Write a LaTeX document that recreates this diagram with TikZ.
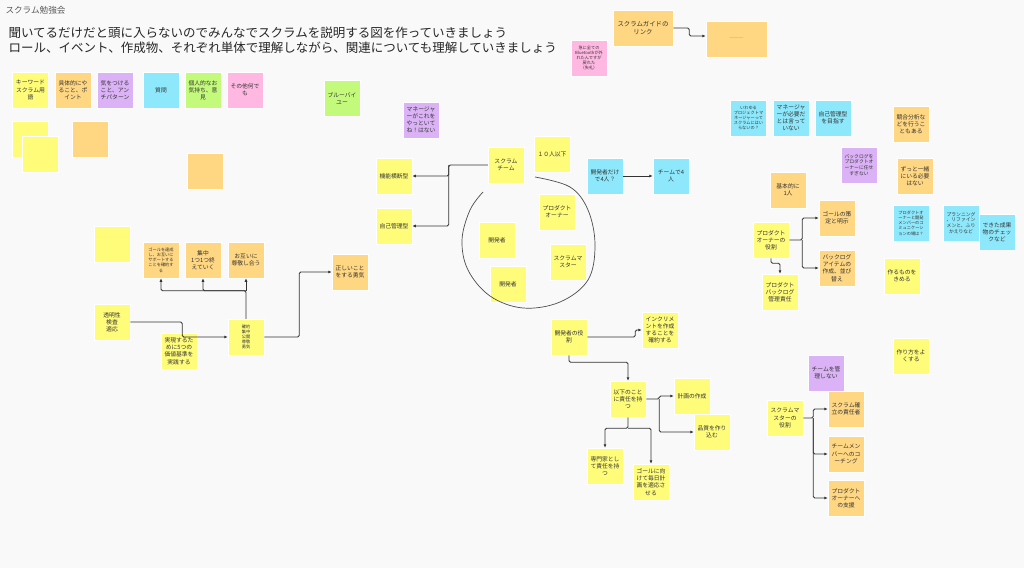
\documentclass[tikz,border=0pt]{standalone}
\usepackage{fontspec}
\setmainfont{Noto Sans CJK JP}
\usepackage{tikz}
\usetikzlibrary{arrows.meta}
\definecolor{noteyellow}{HTML}{FFFC7A}
\definecolor{noteorange}{HTML}{FFD782}
\definecolor{notepurple}{HTML}{DAB2F5}
\definecolor{notecyan}{HTML}{8EE8FB}
\definecolor{notegreen}{HTML}{C4FA7C}
\definecolor{notepink}{HTML}{FFB8E2}
\definecolor{boardbg}{HTML}{F9F9F9}

\begin{document}
\begin{tikzpicture}[x=1pt,y=-1pt]

\tikzset{
  note/.style={minimum width=36pt, minimum height=36pt, inner sep=1pt,
               align=center, draw=white, line width=0.5pt, text=black!80,
               font=\fontsize{5.8}{7.2}\selectfont},
  ynote/.style={note, fill=noteyellow},
  onote/.style={note, fill=noteorange},
  pnote/.style={note, fill=notepurple},
  cnote/.style={note, fill=notecyan},
  gnote/.style={note, fill=notegreen},
  knote/.style={note, fill=notepink},
  smalltext/.style={font=\fontsize{4.8}{5.8}\selectfont},
  finetext/.style={font=\fontsize{4.2}{5.2}\selectfont},
  flow/.style={draw=black!80, line width=0.9pt, rounded corners=1.5pt,
               -{Latex[length=3.5pt, width=3pt]}},
  sketch/.style={draw=black!70, line width=0.7pt}
}

% Board
\useasboundingbox (0,0) rectangle (1024,568);
\fill[boardbg] (0,0) rectangle (1024,568);
\node[anchor=west, font=\fontsize{8.6}{10}\selectfont, text=black!65] (header) at (2,10) {スクラム勉強会};
\node[anchor=west, font=\fontsize{12.5}{15}\selectfont, text=black!85] (intro1) at (5,33)
  {聞いてるだけだと頭に入らないのでみんなでスクラムを説明する図を作っていきましょう};
\node[anchor=west, font=\fontsize{12.5}{15}\selectfont, text=black!85] (intro2) at (5,48)
  {ロール、イベント、作成物、それぞれ単体で理解しながら、関連についても理解していきましょう};

% Legend
\node[ynote] (keyword)  at (30.5,90) {キーワード\\スクラム用\\語};
\node[onote] (todo)     at (73,90)   {具体的にや\\ること、ポ\\イント};
\node[pnote] (caution)  at (115,90)  {気をつける\\こと、アン\\チパターン};
\node[cnote] (question) at (161,90)  {質問};
\node[gnote] (opinion)  at (203,90)  {個人的なお\\気持ち、意\\見};
\node[knote] (other)    at (245,90)  {その他何で\\も};
\node[gnote] (blue)     at (342,98.5) {ブルーバイ\\ユー};

% Blank notes
\node[ynote] (blank1) at (30.5,139.5) {};
\node[ynote] (blank2) at (40,154)   {};
\node[onote] (blank3) at (90,139)   {};
\node[onote] (blank4) at (205,171)  {};
\node[ynote] (blank5) at (112,244)  {};

% Values
\node[onote, finetext] (support)  at (161,260) {ゴールを達成\\し、お互いに\\サポートする\\ことを確約す\\る};
\node[onote] (focus)    at (203,260) {集中\\1つ1つ終\\えていく};
\node[onote] (respect)  at (246,260) {お互いに\\尊敬し合う};
\node[onote] (courage)  at (350,272) {正しいこと\\をする勇気};
\node[ynote] (pillars)  at (112,322) {透明性\\検査\\適応};
\node[ynote] (realize)  at (179,351) {実現するた\\めに5つの\\価値基準を\\実践する};
\node[ynote, finetext] (values) at (246,337) {確約\\集中\\公開\\尊敬\\勇気};

\draw[flow] (pillars.east) -- ++(52,0) |- (values.west);
\draw[flow] (values.north) -- ++(0,-28) coordinate (vsplit) -| (support.south);
\draw[flow] (vsplit) -| (focus.south);
\draw[flow] (vsplit) -- (respect.south);
\draw[flow] (values.east) -- ++(35,0) |- (courage.west);

% Scrum team
\node[pnote] (manager) at (421,120) {マネージャ\\ーがこれを\\やっといて\\ね！はない};
\node[ynote] (team)    at (506,165) {スクラム\\チーム};
\node[ynote] (ten)     at (552,154) {１０人以下};
\node[ynote] (cross)   at (394,176) {機能横断型};
\node[ynote] (selfmg)  at (394,226) {自己管理型};
\node[ynote] (po)      at (557,212) {プロダクト\\オーナー};
\node[ynote] (dev1)    at (497,240) {開発者};
\node[ynote] (sm)      at (568,262) {スクラムマ\\スター};
\node[ynote] (dev2)    at (508,284) {開発者};

\draw[flow] (team.west) -- ++(-39,0) coordinate (tsplit) |- (cross.east);
\draw[flow] (tsplit) |- (selfmg.east);
\draw[sketch] plot[smooth, tension=0.6] coordinates {(535,177) (570,187) (588,210) (595,245) (588,280) (560,302) (523,308) (490,296) (468,270) (462,240) (470,210) (483,192)};

\node[cnote] (devonly) at (605,176) {開発者だけ\\で4人？};
\node[cnote] (team4)   at (671,176) {チームで4\\人};
\draw[flow] (devonly.east) -- (team4.west);

% Guide
\node[onote, minimum width=60pt, font=\fontsize{6.4}{8}\selectfont] (guide) at (643,28) {スクラムガイドの\\リンク};
\node[onote, minimum width=61pt, text=black!35] (guidelink) at (736.5,39) {———};
\node[knote, finetext] (bt) at (589,58) {急に全ての\\Bluetoothが外\\れたんですが\\戻れた\\（失礼）};
\draw[flow] (guide.east) -- ++(16,0) |- ([yshift=3pt]guidelink.west);

% Product owner
\node[cnote, finetext] (pm)      at (748.5,118) {いわゆる\\プロジェクトマ\\ネージャーって\\スクラムにはい\\らないの？};
\node[cnote] (notneed) at (791,118) {マネージャ\\ーが必要だ\\とは言って\\いない};
\node[cnote] (aimself) at (833,118) {自己管理型\\を目指す};
\node[onote] (compete) at (911,124) {競合分析な\\どを行うこ\\ともある};
\node[pnote, smalltext] (backlog) at (859,165) {バックログを\\プロダクトオ\\ーナーに任せ\\すぎない};
\node[onote] (always)  at (915,176) {ずっと一緒\\にいる必要\\はない};
\node[onote] (basic)   at (788,190) {基本的に\\1人};
\node[onote] (goalset) at (837,218) {ゴールの策\\定と明示};
\node[ynote] (porole)  at (771,240) {プロダクト\\オーナーの\\役割};
\node[onote] (pbitem)  at (837,268) {バックログ\\アイテムの\\作成、並び\\替え};
\node[ynote] (pbl)     at (780,292) {プロダクト\\バックログ\\管理責任};
\node[cnote, finetext] (comm)     at (911,223) {プロダクトオ\\ーナーと開発\\メンバーのコ\\ミュニケーシ\\ョンの場は？};
\node[cnote, smalltext] (planning) at (961,223) {プランニング\\、リファイン\\メンと、ふり\\かえりなど};
\node[cnote] (review)  at (997,232) {できた成果\\物のチェッ\\クなど};
\node[ynote] (decide)  at (902,276) {作るものを\\きめる};
\node[ynote] (improve) at (911,356) {作り方をよ\\くする};

\draw[flow] (porole.east) -- ++(13,0) coordinate (psplit) |- (goalset.west);
\draw[flow] (psplit) |- (pbitem.west);
\draw[flow] (porole.south) -- ++(0,5) -| (pbl.north);

% Developers
\node[ynote] (devrole) at (569,337) {開発者の役\\割};
\node[ynote] (incr)    at (660,330) {インクリメ\\ントを作成\\することを\\確約する};
\node[ynote] (duty)    at (628,399) {以下のこと\\に責任を持\\つ};
\node[ynote] (plan)    at (692,396) {計画の作成};
\node[ynote] (quality) at (712,432) {品質を作り\\込む};
\node[ynote] (expert)  at (605,466) {専門家とし\\て責任を持\\つ};
\node[ynote] (daily)   at (651,482) {ゴールに向\\けて毎日計\\画を適応さ\\せる};

\draw[flow] (devrole.east) -- ++(48,0) |- (incr.west);
\draw[flow] (devrole.south) -- ++(0,7) -| (duty.north);
\draw[flow] (duty.east) -- ++(13,0) coordinate (dsplit) |- (plan.west);
\draw[flow] (dsplit) |- (quality.west);
\draw[flow] (duty.south) -- ++(0,11) coordinate (dsplit2) -| (expert.north);
\draw[flow] (dsplit2) -| (daily.north);

% Scrum master
\node[pnote] (nomanage) at (826,373) {チームを管\\理しない};
\node[ynote] (smrole)   at (785,418) {スクラムマ\\スターの\\役割};
\node[onote] (smsetup)  at (846,409) {スクラム確\\立の責任者};
\node[onote] (coach)    at (846,454) {チームメン\\バーへのコ\\ーチング};
\node[onote] (posupport) at (846,498) {プロダクト\\オーナーへ\\の支援};

\draw[flow] (smrole.east) -- ++(10,0) coordinate (ssplit) |- (smsetup.west);
\draw[flow] (ssplit) |- (coach.west);
\draw[flow] (ssplit) |- (posupport.west);

\end{tikzpicture}
\end{document}
